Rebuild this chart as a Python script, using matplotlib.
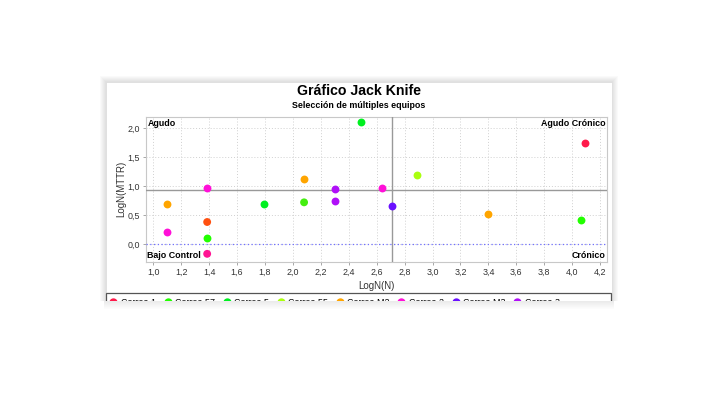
import numpy as np
import matplotlib.pyplot as plt
from matplotlib.patches import Rectangle
from matplotlib.lines import Line2D
from matplotlib.ticker import MultipleLocator, FuncFormatter

plt.rcParams['font.family'] = ['Liberation Sans', 'DejaVu Sans']

series_names = ["Correa 1", "Correa 57", "Correa 5", "Correa 55",
                "Correa M2", "Correa 2", "Correa M3", "Correa 3"]
series_colors = ['#FF1A4B', '#22FF00', '#00F020', '#AAFF10',
                 '#FFA500', '#FF10D8', '#6A10FF', '#B010F8']
series_x = [[4.09], [1.386, 4.06], [1.79, 2.485], [2.89],
            [1.10, 2.08, 3.40], [1.10, 1.386, 2.64], [2.71], [2.30, 2.30]]
series_y = [[1.74], [0.11, 0.42], [0.69, 2.10], [1.20],
            [0.69, 1.13, 0.51], [0.20, 0.96, 0.96], [0.66], [0.95, 0.75]]

# series whose legend entries are cut off in the original
extra_x = [1.386, 1.386, 2.08]
extra_y = [0.38, -0.17, 0.72]
extra_colors = ['#FF5010', '#FF1493', '#44EE10']

mean_x = 2.71
mean_y = 0.94

W, H = 716, 399
fig = plt.figure(figsize=(W / 100, H / 100), dpi=100)
fig.patch.set_facecolor('white')

def fx(px):
    return px / W

def fy(py):
    return 1 - py / H

# panel shadow + panel
for i in range(6):
    d = 6 - i
    fig.add_artist(Rectangle((fx(106 - d), fy(300 + d)), fx(506 + 2 * d), (300 + d - 82 + d) / H,
                             transform=fig.transFigure, facecolor='black',
                             edgecolor='none', alpha=0.02, zorder=0))
fig.add_artist(Rectangle((fx(106), fy(300)), fx(506), (300 - 82) / H,
                         transform=fig.transFigure, facecolor='white',
                         edgecolor='#DDDDDD', lw=0.6, zorder=0.5))

ax = fig.add_axes([fx(146), fy(261.7), fx(460.7), (261.7 - 116.7) / H])
ax.set_zorder(2)

for xs, ys, c in zip(series_x, series_y, series_colors):
    ax.scatter(xs, ys, s=32, color=c, zorder=4, linewidths=0)
ax.scatter(extra_x, extra_y, s=32, c=extra_colors, zorder=4, linewidths=0)

ax.axvline(mean_x, color='#999999', lw=1.0, zorder=3)
ax.axhline(mean_y, color='#999999', lw=1.0, zorder=3)
ax.axhline(0.0, color='#7070FF', lw=0.9, ls=(0, (1, 2)), zorder=3)

ax.set_xlim(0.948, 4.247)
ax.set_ylim(-0.306, 2.2)
ax.xaxis.set_major_locator(MultipleLocator(0.2))
ax.yaxis.set_major_locator(MultipleLocator(0.5))
fmt = FuncFormatter(lambda v, p: f"{v:.1f}".replace('.', ','))
ax.xaxis.set_major_formatter(fmt)
ax.yaxis.set_major_formatter(fmt)
ax.grid(True, color='#D0D0D0', ls=(0, (1, 2)), lw=0.7)
ax.set_axisbelow(True)
for s in ax.spines.values():
    s.set_color('#C8C8C8')
    s.set_linewidth(0.8)
ax.tick_params(labelsize=6.4, colors='#333333', length=2.5, width=0.6, pad=2)
ax.tick_params(color='#999999')
ax.set_xlabel("LogN(N)", fontsize=7, color='#333333', labelpad=3)
ax.set_ylabel("LogN(MTTR)", fontsize=7, color='#333333', labelpad=1)

qkw = dict(transform=ax.transAxes, fontsize=6.4, fontweight='bold', zorder=5)
ax.text(0.003, 0.985, "Agudo", ha='left', va='top', **qkw)
ax.text(0.997, 0.985, "Agudo Crónico", ha='right', va='top', **qkw)
ax.text(0.003, 0.015, "Bajo Control", ha='left', va='bottom', **qkw)
ax.text(0.997, 0.015, "Crónico", ha='right', va='bottom', **qkw)

fig.text(fx(359), fy(91), "Gráfico Jack Knife", ha='center', va='center',
         fontsize=10.2, fontweight='bold')
fig.text(fx(359), fy(106), "Selección de múltiples equipos", ha='center', va='center',
         fontsize=6.4, fontweight='bold')

# legend box (spans the panel width) and its entries
fig.add_artist(Rectangle((fx(106), fy(312)), fx(505), (312 - 292.5) / H,
                         transform=fig.transFigure, facecolor='white',
                         edgecolor='#555555', lw=0.9, zorder=4))
handles = [Line2D([], [], ls='none', marker='o', markersize=6, markerfacecolor=c,
                  markeredgewidth=0) for c in series_colors]
leg = fig.legend(handles, series_names, loc='upper left',
                 bbox_to_anchor=(fx(109), fy(296)), ncol=8, fontsize=6.4,
                 frameon=False, handlelength=0.6, handletextpad=0.55,
                 columnspacing=1.0, borderpad=0.2, borderaxespad=0)
leg.set_zorder(5)

# the original is cropped just below the legend's first row
fig.add_artist(Rectangle((0, 0), 1, fy(300.5), transform=fig.transFigure,
                         facecolor='white', edgecolor='none', zorder=10))
for i in range(8):
    fig.add_artist(Rectangle((fx(104), fy(300.5 + i + 1)), fx(510), 1 / H,
                             transform=fig.transFigure, facecolor='black',
                             edgecolor='none', alpha=0.08 * (1 - i / 8), zorder=11))

fig.savefig("out.png", dpi=100)
